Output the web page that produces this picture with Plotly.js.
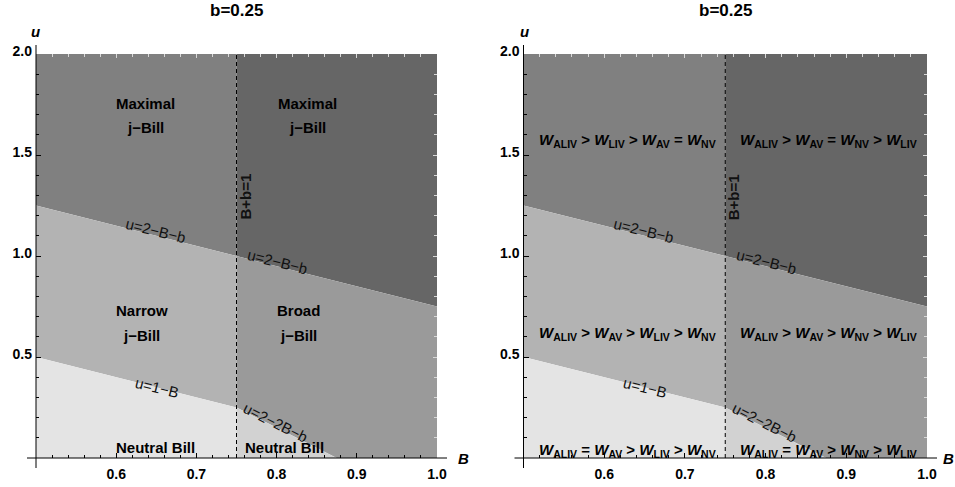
<!DOCTYPE html>
<html>
<head>
<meta charset="utf-8">
<script src="https://cdn.plot.ly/plotly-3.0.1.min.js"></script>
<style>html,body{margin:0;padding:0;background:#fff;}#chart{width:955px;height:487px;}</style>
</head>
<body>
<div id="chart"></div>
<script>
// ---------- data ----------
const b = 0.25;                       // parameter
const Brange = [0.5, 1.0];
const uRange = [0, 2.0];
const splitB = 1 - b;                 // B + b = 1
const xTickVals = [0.6, 0.7, 0.8, 0.9, 1.0];
const xTickText = ["0.6", "0.7", "0.8", "0.9", "1.0"];
const yTickVals = [0.5, 1.0, 1.5, 2.0];
const yTickText = ["0.5", "1.0", "1.5", "2.0"];
const panelTitles = ["b=0.25", "b=0.25"];
const billLabels = ["Maximal", "j\u2212Bill", "Maximal", "j\u2212Bill",
                    "Narrow", "j\u2212Bill", "Broad", "j\u2212Bill",
                    "Neutral Bill", "Neutral Bill"];
const welfareOrders = [
  "W_ALIV > W_LIV > W_AV = W_NV",
  "W_ALIV > W_AV = W_NV > W_LIV",
  "W_ALIV > W_AV > W_LIV > W_NV",
  "W_ALIV > W_AV > W_NV > W_LIV",
  "W_ALIV = W_AV > W_LIV > W_NV",
  "W_ALIV = W_AV > W_NV > W_LIV"
];
const curveLabels = ["u=2\u2212B\u2212b", "u=2\u2212B\u2212b", "u=1\u2212B", "u=2\u22122B\u2212b", "B+b=1"];

// boundary curves
const uHigh = B => 2 - B - b;        // u = 2 - B - b
const uLowL = B => 1 - B;            // u = 1 - B
const uLowR = B => 2 - 2 * B - b;    // u = 2 - 2B - b
const zeroR = (2 - b) / 2;           // where u = 2 - 2B - b hits 0

// ---------- style / layout ----------
const FONT = "Liberation Sans, Arial, sans-serif";
const regionColors = ["#808080", "#b3b3b3", "#e4e4e4", "#666666", "#9a9a9a", "#d2d2d2"];
const W = 955, H = 487, mL = 36, mR = 28, mT = 54, mB = 29;
const plotW = W - mL - mR, plotH = H - mT - mB;
const dom1 = [0, 401 / plotW];
const dom2 = [487.5 / plotW, 1];

const regions = [
  { B: [Brange[0], splitB, splitB, Brange[0]], u: [uHigh(Brange[0]), uHigh(splitB), uRange[1], uRange[1]] },
  { B: [Brange[0], splitB, splitB, Brange[0]], u: [uLowL(Brange[0]), uLowL(splitB), uHigh(splitB), uHigh(Brange[0])] },
  { B: [Brange[0], splitB, splitB, Brange[0]], u: [uRange[0], uRange[0], uLowL(splitB), uLowL(Brange[0])] },
  { B: [splitB, Brange[1], Brange[1], splitB], u: [uHigh(splitB), uHigh(Brange[1]), uRange[1], uRange[1]] },
  { B: [splitB, zeroR, Brange[1], Brange[1], splitB], u: [uLowR(splitB), 0, uRange[0], uHigh(Brange[1]), uHigh(splitB)] },
  { B: [splitB, zeroR, splitB], u: [uRange[0], 0, uLowR(splitB)] }
];

const traces = [];
const panels = [{ xa: "x", ya: "y" }, { xa: "x2", ya: "y2" }];
panels.forEach(p => {
  regions.forEach((r, i) => {
    traces.push({
      type: "scatter", mode: "lines", x: r.B, y: r.u, fill: "toself",
      fillcolor: regionColors[i], line: { width: 0, color: regionColors[i] },
      hoverinfo: "skip", showlegend: false, xaxis: p.xa, yaxis: p.ya
    });
  });
  traces.push({
    type: "scatter", mode: "lines", x: [splitB, splitB], y: uRange,
    line: { color: "#000", width: 1, dash: "4px,3px" },
    hoverinfo: "skip", showlegend: false, xaxis: p.xa, yaxis: p.ya
  });
});
// dummy traces to anchor the faint frame-tick overlay axes
[["x3", "y3"], ["x4", "y4"]].forEach(([xa, ya]) => {
  traces.push({ type: "scatter", mode: "markers", x: [Brange[0]], y: [uRange[0]], marker: { opacity: 0 },
    hoverinfo: "skip", showlegend: false, xaxis: xa, yaxis: ya });
});

function mainX(domain, anchor) {
  return {
    domain: domain, anchor: anchor, range: Brange, showgrid: false, zeroline: false, showline: false,
    ticks: "inside", ticklen: 5, tickwidth: 1, tickcolor: "#000",
    tickvals: xTickVals, ticktext: xTickText, ticklabelstandoff: 6,
    tickfont: { family: FONT, size: 14, weight: "bold", color: "#000" },
    minor: { dtick: 0.02, tick0: 0.5, ticks: "inside", ticklen: 3, tickcolor: "#000", tickwidth: 1, showgrid: false },
    fixedrange: true
  };
}
function mainY(anchor) {
  return {
    domain: [0, 1], anchor: anchor, range: uRange, showgrid: false, zeroline: false, showline: false,
    ticks: "inside", ticklen: 5, tickwidth: 1, tickcolor: "#000",
    tickvals: yTickVals, ticktext: yTickText, ticklabelstandoff: 3, ticklabelshift: -3,
    tickfont: { family: FONT, size: 14, weight: "bold", color: "#000" },
    minor: { dtick: 0.1, tick0: 0, ticks: "inside", ticklen: 3, tickcolor: "#000", tickwidth: 1, showgrid: false },
    fixedrange: true
  };
}
function frameX(over, anchor, domain) {
  return {
    overlaying: over, anchor: anchor, side: "top", domain: domain, range: Brange,
    showgrid: false, zeroline: false, showline: false, showticklabels: false,
    ticks: "inside", ticklen: 4, tickcolor: "#d8d8d8", tickvals: xTickVals,
    minor: { dtick: 0.02, tick0: 0.5, ticks: "inside", ticklen: 3, tickcolor: "#d8d8d8" }, fixedrange: true
  };
}
function frameY(over, anchor) {
  return {
    overlaying: over, anchor: anchor, side: "right", range: uRange,
    showgrid: false, zeroline: false, showline: false, showticklabels: false,
    ticks: "inside", ticklen: 4, tickcolor: "#d8d8d8", tickvals: yTickVals,
    minor: { dtick: 0.1, tick0: 0, ticks: "inside", ticklen: 3, tickcolor: "#d8d8d8" }, fixedrange: true
  };
}

// helpers for paper coordinates from pixels
const px = X => (X - mL) / plotW;
const py = Y => (H - mB - Y) / plotH;

const annotations = [];
function boldText(text, xref, yref, x, y, size, extra) {
  annotations.push(Object.assign({
    text: text, xref: xref, yref: yref, x: x, y: y, showarrow: false,
    xanchor: "center", yanchor: "middle",
    font: { family: FONT, size: size, weight: "bold", color: "#000" }
  }, extra || {}));
}

// titles
boldText(panelTitles[0], "paper", "paper", px(236.5), py(10.5), 17);
boldText(panelTitles[1], "paper", "paper", px(725), py(10.5), 17);
// axis letters
[[35.5, 31.5, "u"], [463, 458.5, "B"], [524, 31.5, "u"], [948, 458.5, "B"]].forEach(a => {
  boldText("<i>" + a[2] + "</i>", "paper", "paper", px(a[0]), py(a[1]), 15);
});

// left panel bill labels
const billPos = [[0.636, 1.757], [0.636, 1.634], [0.838, 1.757], [0.838, 1.634],
                 [0.632, 0.728], [0.632, 0.604], [0.827, 0.728], [0.827, 0.604],
                 [0.6496, 0.05], [0.81, 0.05]];
billLabels.forEach((t, i) => boldText(t, "x", "y", billPos[i][0], billPos[i][1], 15));

// right panel welfare orderings
const toHtml = s => s.replace(/W_([A-Z]+)/g, "<i>W</i><sub>$1</sub>");
const welfarePos = [[0.629, 1.574], [0.878, 1.574], [0.629, 0.614], [0.878, 0.614], [0.629, 0.035], [0.878, 0.035]];
welfareOrders.forEach((t, i) => boldText(toHtml(t), "x2", "y2", welfarePos[i][0], welfarePos[i][1], 15));

// curve labels on both panels
const curvePos = [[0.649, 1.124, 14], [0.8005, 0.975, 14], [0.651, 0.35, 14], [0.799, 0.178, 26.7], [0.76, 1.292, -90]];
[["x", "y"], ["x2", "y2"]].forEach(([xr, yr]) => {
  curveLabels.forEach((t, i) => {
    const isB = i === 4;
    annotations.push({
      text: t, xref: xr, yref: yr, x: curvePos[i][0], y: curvePos[i][1], showarrow: false,
      textangle: curvePos[i][2], xanchor: "center", yanchor: "middle",
      font: { family: FONT, size: 15, weight: isB ? "bold" : "normal", color: "#111" }
    });
  });
});

// axis lines (extend slightly past the plotting area, Mathematica style)
const shapes = [];
function axisLines(dom) {
  const x0 = dom[0], x1 = dom[1];
  shapes.push({ type: "line", xref: "paper", yref: "paper", x0: x0 - 9 / plotW, x1: x1 + 10 / plotW, y0: 0, y1: 0,
                line: { color: "#000", width: 1 } });
  shapes.push({ type: "line", xref: "paper", yref: "paper", x0: x0, x1: x0, y0: -10 / plotH, y1: 1 + 9 / plotH,
                line: { color: "#000", width: 1 } });
}
axisLines(dom1);
axisLines(dom2);

const layout = {
  width: W, height: H, margin: { l: mL, r: mR, t: mT, b: mB, pad: 0 },
  paper_bgcolor: "#fff", plot_bgcolor: "rgba(0,0,0,0)", showlegend: false,
  font: { family: FONT, size: 14, color: "#000" },
  xaxis: mainX(dom1, "y"), yaxis: mainY("x"),
  xaxis2: mainX(dom2, "y2"), yaxis2: mainY("x2"),
  xaxis3: frameX("x", "y3", dom1), yaxis3: frameY("y", "x3"),
  xaxis4: frameX("x2", "y4", dom2), yaxis4: frameY("y2", "x4"),
  annotations: annotations, shapes: shapes
};

Plotly.newPlot("chart", traces, layout, { staticPlot: true, displayModeBar: false });
</script>
</body>
</html>
